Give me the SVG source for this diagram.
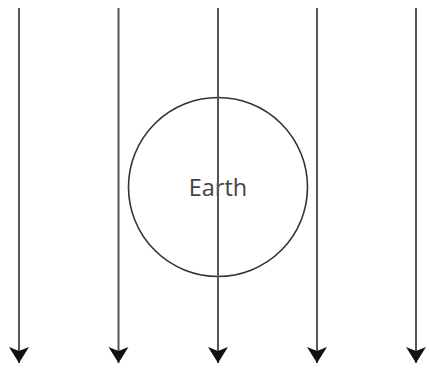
<svg xmlns="http://www.w3.org/2000/svg" width="429" height="370" viewBox="0 0 429 370">
<style>
.ray{stroke:#555;stroke-width:2;fill:none}
.earth{stroke:#333;stroke-width:1.6;fill:none}
.lbl{font-family:"Open Sans",sans-serif;font-size:23.5px;fill:#444;text-anchor:middle}
</style>
<defs>
<marker id="ah" markerUnits="userSpaceOnUse" markerWidth="20" markerHeight="22" refX="17" refY="10.5" orient="auto" viewBox="0 0 20 21">
<path d="M1,0.5 L17,10.5 L1,20.5 L5,10.5 Z" fill="#111"/>
</marker>
</defs>
<g id="earth">
<circle class="earth" cx="218" cy="187" r="89.5"/>
<text class="lbl" x="218" y="196">Earth</text>
</g>
<g id="connectors">
<line class="ray" x1="19" y1="8" x2="19" y2="363" marker-end="url(#ah)"/>
<line class="ray" x1="118.5" y1="8" x2="118.5" y2="363" marker-end="url(#ah)"/>
<line class="ray" x1="218" y1="8" x2="218" y2="363" marker-end="url(#ah)"/>
<line class="ray" x1="317" y1="8" x2="317" y2="363" marker-end="url(#ah)"/>
<line class="ray" x1="416" y1="8" x2="416" y2="363" marker-end="url(#ah)"/>
</g>
</svg>
